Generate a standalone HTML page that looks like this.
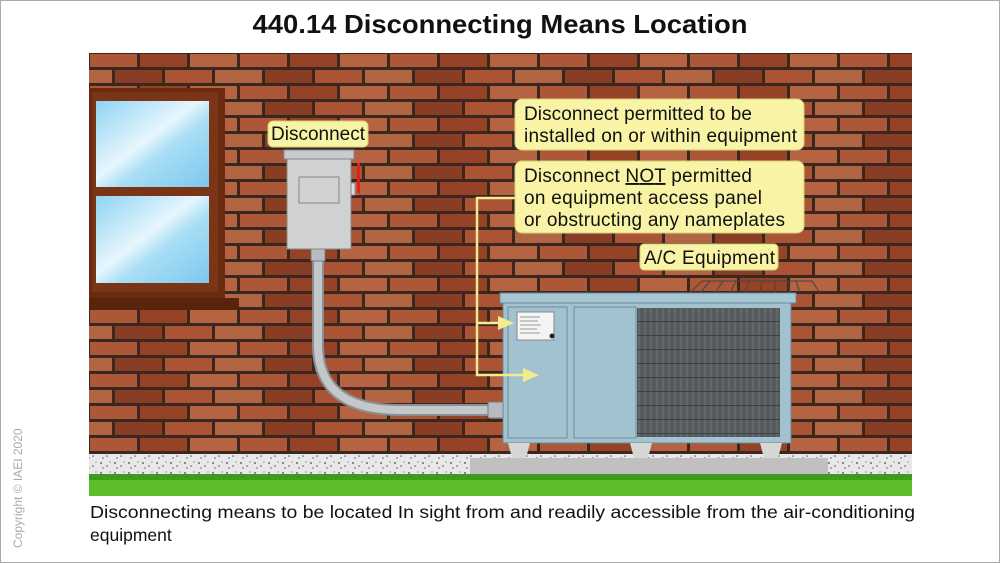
<!DOCTYPE html>
<html><head><meta charset="utf-8"><style>
html,body{margin:0;padding:0;background:#fff;}
svg{display:block;}
text{font-family:"Liberation Sans",Arial,sans-serif;}
</style></head><body>
<svg width="1000" height="563" viewBox="0 0 1000 563" xmlns="http://www.w3.org/2000/svg">
<defs>
<pattern id="brick" x="89" y="53" width="150" height="32" patternUnits="userSpaceOnUse">
<rect width="150" height="32" fill="#3b2a22"/>
<rect x="1" y="1" width="47" height="13" fill="#b9603f"/>
<rect x="51" y="1" width="47" height="13" fill="#a0482b"/>
<rect x="101" y="1" width="47" height="13" fill="#c46e48"/>
<rect x="-24" y="17" width="47" height="13" fill="#c0704a"/>
<rect x="26" y="17" width="47" height="13" fill="#93422a"/>
<rect x="76" y="17" width="47" height="13" fill="#b85c3c"/>
<rect x="126" y="17" width="47" height="13" fill="#c0704a"/>
</pattern>
<pattern id="gravel" width="14" height="10" patternUnits="userSpaceOnUse">
<rect width="14" height="10" fill="#e8e8e8"/>
<circle cx="3" cy="3" r="0.9" fill="#444"/><circle cx="9" cy="6" r="0.8" fill="#555"/><circle cx="12" cy="2" r="0.6" fill="#666"/><circle cx="5" cy="8" r="0.7" fill="#555"/>
</pattern>
<pattern id="grill" width="6" height="14" patternUnits="userSpaceOnUse">
<rect width="6" height="14" fill="#555a5e"/>
<line x1="3" y1="0" x2="3" y2="14" stroke="#6e7478" stroke-width="1"/>
<line x1="0" y1="13.5" x2="6" y2="13.5" stroke="#3e4245" stroke-width="1"/>
</pattern>
<linearGradient id="glass" x1="0" y1="0" x2="1" y2="1">
<stop offset="0" stop-color="#8fd3f2"/><stop offset="0.45" stop-color="#e6f6fd"/><stop offset="0.6" stop-color="#a9def5"/><stop offset="1" stop-color="#7cc8ee"/>
</linearGradient>
</defs>
<rect x="0.5" y="0.5" width="999" height="562" fill="#fff" stroke="#aaa"/>
<text x="500" y="33" text-anchor="middle" font-size="26" font-weight="bold" textLength="495" lengthAdjust="spacingAndGlyphs" fill="#111">440.14 Disconnecting Means Location</text>
<rect x="89" y="53" width="823" height="402" fill="url(#brick)"/>
<rect x="89" y="53" width="823" height="402" fill="#4a1a08" opacity="0.12"/>
<rect x="89" y="88" width="136" height="212" fill="#6b2b10"/>
<rect x="92" y="92" width="126" height="200" fill="#7a3516"/>
<rect x="96" y="101" width="113" height="86" fill="url(#glass)"/>
<rect x="96" y="196" width="113" height="87" fill="url(#glass)"/>
<rect x="89" y="298" width="150" height="12" fill="#5a240c"/>
<rect x="89" y="454" width="823" height="26" fill="url(#gravel)"/>
<rect x="470" y="458" width="358" height="20" fill="#c0c0c0"/>
<rect x="89" y="474" width="823" height="22" fill="#3f9b1e"/>
<rect x="89" y="480" width="823" height="16" fill="#5cbf2a"/>
<path d="M318 252 L318 345 Q318 410 400 410 L492 410" fill="none" stroke="#8a8f93" stroke-width="12"/>
<path d="M318 252 L318 345 Q318 410 400 410 L492 410" fill="none" stroke="#c4c8cb" stroke-width="8"/>
<rect x="488" y="402" width="16" height="16" fill="#b8bcbf" stroke="#777"/>
<rect x="311" y="247" width="14" height="14" fill="#b8bcbf" stroke="#777"/>
<rect x="284" y="150" width="70" height="9" fill="#c8cacc" stroke="#888"/>
<rect x="287" y="159" width="64" height="90" fill="#cfd1d3" stroke="#888"/>
<rect x="299" y="177" width="40" height="26" fill="none" stroke="#888"/>
<rect x="351" y="183" width="4" height="12" fill="#ddd" stroke="#888"/>
<rect x="357" y="163" width="3" height="30" fill="#e02020"/>
<g stroke="#444" stroke-width="1" fill="none">
<path d="M690 293 l12 -12 h110 l8 12 M700 293 l10 -12 M715 293 l8 -12 M730 293 l6 -12 M745 293 l4 -12 M760 293 l2 -12 M775 293 v-12 M790 293 l-2 -12 M800 293 l-4 -12"/>
</g>
<rect x="500" y="293" width="296" height="10" fill="#a6c6d4" stroke="#6a8a98"/>
<rect x="503" y="303" width="288" height="140" fill="#a3c2d0" stroke="#6a8a98"/>
<rect x="508" y="307" width="59" height="131" fill="#a3c2d0" stroke="#6d8a96"/>
<rect x="574" y="307" width="62" height="131" fill="#a3c2d0" stroke="#6d8a96"/>
<rect x="637" y="308" width="143" height="129" fill="url(#grill)"/>
<rect x="517" y="312" width="37" height="28" fill="#f4f4f4" stroke="#888"/>
<g stroke="#999" stroke-width="1"><line x1="520" y1="317" x2="540" y2="317"/><line x1="520" y1="321" x2="538" y2="321"/><line x1="520" y1="325" x2="541" y2="325"/><line x1="520" y1="329" x2="537" y2="329"/><line x1="520" y1="333" x2="540" y2="333"/></g>
<circle cx="552" cy="336" r="2.5" fill="#222"/>
<polygon points="508,443 530,443 526,458 512,458" fill="#d6d6d6"/>
<polygon points="630,443 652,443 648,458 634,458" fill="#d6d6d6"/>
<polygon points="760,443 782,443 778,458 764,458" fill="#d6d6d6"/>
<g stroke="#f3ec8e" stroke-width="2.5" fill="none">
<path d="M515 198 H477 V375 H525"/>
<line x1="477" y1="323" x2="500" y2="323"/>
</g>
<polygon points="498,316 514,323 498,330" fill="#f3ec8e"/>
<polygon points="523,368 539,375 523,382" fill="#f3ec8e"/>
<g fill="#f9f3a6" stroke="#d8cf7a" stroke-width="1">
<rect x="268" y="121" width="100" height="26" rx="5"/>
<rect x="515" y="99" width="289" height="51" rx="7"/>
<rect x="515" y="161" width="289" height="72" rx="7"/>
<rect x="640" y="244" width="138" height="26" rx="4"/>
</g>
<g fill="#111" font-size="19" lengthAdjust="spacingAndGlyphs">
<text x="271" y="140" textLength="94">Disconnect</text>
<text x="524" y="120" textLength="228">Disconnect permitted to be</text>
<text x="524" y="142" textLength="273">installed on or within equipment</text>
<text x="524" y="182" textLength="228">Disconnect <tspan text-decoration="underline">NOT</tspan> permitted</text>
<text x="524" y="204" textLength="238">on equipment access panel</text>
<text x="524" y="226" textLength="261">or obstructing any nameplates</text>
<text x="644" y="264" textLength="131">A/C Equipment</text>
</g>
<g fill="#111" font-size="17.5">
<text x="90" y="518" textLength="825" lengthAdjust="spacingAndGlyphs">Disconnecting means to be located In sight from and readily accessible from the air-conditioning</text>
<text x="90" y="541">equipment</text>
</g>
<text x="0" y="0" transform="translate(22,548) rotate(-90)" font-size="12" fill="#aaa">Copyright © IAEI 2020</text>
</svg>
</body></html>
